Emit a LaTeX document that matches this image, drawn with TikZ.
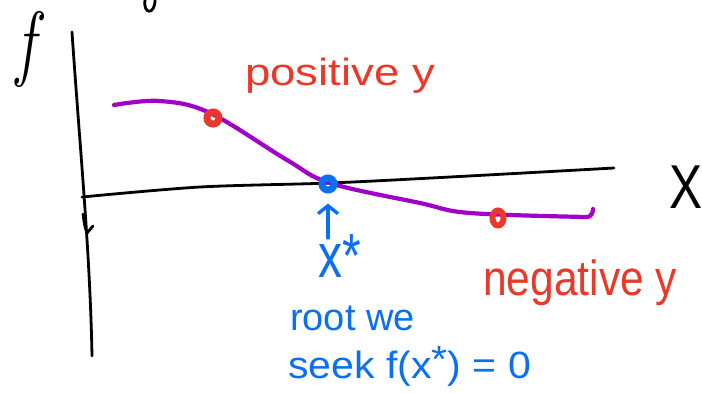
\documentclass[tikz,border=0pt]{standalone}
\usepackage{fontspec}
\setmainfont{Liberation Sans}
\newfontfamily\lmfont{Latin Modern Roman}
\usetikzlibrary{arrows.meta, positioning, shapes.geometric}
\definecolor{inkred}{HTML}{E8392B}
\definecolor{inkblue}{HTML}{0A6FF0}
\definecolor{inkpurple}{HTML}{A000C8}

\begin{document}
\begin{tikzpicture}[x=1pt, y=-1pt,
    axis/.style={draw=black, line width=2.8pt, line cap=round, line join=round},
    curve/.style={draw=inkpurple, line width=4.2pt, line cap=round, line join=round},
    marker/.style={circle, draw, line width=7pt, minimum size=12pt, inner sep=0pt},
    note/.style={font=\fontsize{38}{40}\selectfont, inner sep=0pt, anchor=base west},
    arrow/.style={draw, -{Straight Barb[length=8pt, width=20pt]}, line width=3.4pt, line cap=round}
]
\fill[white] (0,0) rectangle (702,392);
\useasboundingbox (0,0) rectangle (702,392);

% Axes
\draw[axis] (72,32) .. controls (80,150) and (90,250) .. (92,356);
\draw[axis] (83,214) .. controls (84,222) and (85,228) .. (87,233) -- (93,226);
\draw[axis] plot[smooth] coordinates {(82,197) (200,187) (330,183) (450,177) (614,168)};
\draw[axis] (145,0) .. controls (143,15) and (155,15) .. (155,0);
\node[font=\lmfont\itshape\fontsize{84}{84}\selectfont, xscale=0.75, inner sep=0pt] (fLbl) at (26,49) {f};
\node[font=\fontsize{62}{62}\selectfont, xscale=0.8, inner sep=0pt] (xLbl) at (686,187) {X};

% Function
\draw[curve] plot[smooth, tension=0.6] coordinates {(114,105) (160,101) (210,113) (287,160) (330,183) (420,203) (470,213) (587,217)} to[out=0, in=270] (593,209);

% Points
\node[marker, draw=inkred] (posPt) at (213,118) {};
\node[marker, draw=inkblue] (rootPt) at (328,184) {};
\node[ellipse, draw=inkred, line width=6pt, minimum width=11pt, minimum height=15pt, inner sep=0pt] (negPt) at (498,218) {};

% Labels
\node[note, text=inkred, xscale=1.2] (posLbl) at (245,85) {positive y};
\node[note, text=inkred, xscale=1.12, yscale=1.3] (negLbl) at (483,295) {negative y};
\node[note, text=inkblue, font=\fontsize{48}{48}\selectfont, yscale=1.3] (xstar) at (318,277) {x*};
\node[note, text=inkblue] (rootLbl) at (290,330) {root we};
\node[note, text=inkblue, xscale=1.08] (seekLbl) at (288,378) {seek f(x\raisebox{0.15em}{*}) = 0};

% Connector
\coordinate (xtail) at (328,238);
\draw[arrow, inkblue, shorten >=10pt] (xtail) -- (rootPt);

\end{tikzpicture}
\end{document}
